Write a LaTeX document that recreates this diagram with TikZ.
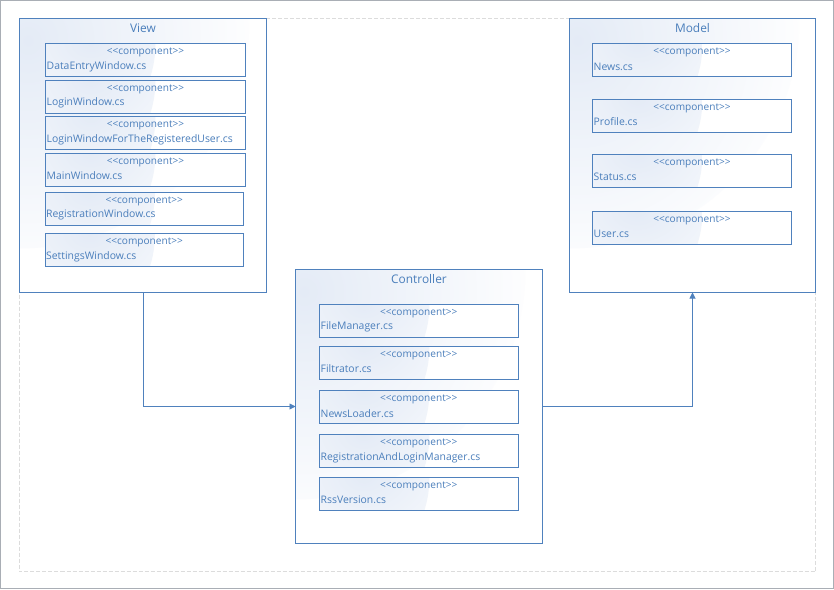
\documentclass[tikz,border=0pt]{standalone}
\usepackage{fontspec}
\setmainfont{Open Sans}
\usetikzlibrary{arrows.meta,calc}
\definecolor{lineblue}{HTML}{4F81BD}
\definecolor{txtblue}{HTML}{4A7EBB}
\definecolor{shadeblue}{HTML}{E4EBF6}
\definecolor{framegray}{HTML}{A9AEB5}
\definecolor{dashgray}{HTML}{DCDCDC}
\newcommand\mycomp[6]{%
  \node[compbox, minimum width=#4pt, minimum height=#5pt] (#1) at (#2,#3) {};
  \node[stereo] at ($(#1.north)+(0,9)$) {<\kern0pt<component>\kern0pt>};
  \node[cname] at ($(#1.north west)+(1,23)$) {#6};
}
\begin{document}
\begin{tikzpicture}[x=1pt,y=-1pt,
  container/.style={draw=lineblue, line width=0.9pt, fill=white, inner sep=0pt, anchor=north west, outer sep=0pt,
    path picture={\shade[inner color=shadeblue, outer color=white] (path picture bounding box.north west) circle[radius=230pt];}},
  compbox/.style={draw=lineblue, line width=0.9pt, fill=white, inner sep=0pt, anchor=north west, outer sep=0pt,
    path picture={\shade[inner color=shadeblue, outer color=white] (path picture bounding box.north west) circle[radius=110pt];}},
  stereo/.style={text=txtblue, font=\fontsize{10.1}{11}\selectfont, inner sep=0pt},
  cname/.style={text=txtblue, font=\fontsize{10.4}{12}\selectfont, inner sep=0pt, anchor=west},
  title/.style={text=txtblue, font=\fontsize{11.9}{13}\selectfont, inner sep=0pt},
  conn/.style={draw=lineblue, line width=0.9pt, -{Triangle[length=6pt,width=6pt]}}
]
\useasboundingbox (0,0) rectangle (834,589);
\fill[white] (0,0) rectangle (834,589);
\draw[framegray, line width=1pt] (0.5,0.5) rectangle (833.5,588.5);
\begin{scope}[shift={(0.5,0.5)}]
\draw[dashgray, line width=0.8pt, dash pattern=on 4pt off 2pt] (19,18) rectangle (815,571);

% containers
\node[container, minimum width=247pt, minimum height=274pt] (view) at (19,18) {};
\node[title] at ($(view.north)+(0,9.5)$) {View};
\node[container, minimum width=246pt, minimum height=274pt] (model) at (569,18) {};
\node[title] at ($(model.north)+(0,9.5)$) {Model};
\node[container, minimum width=247pt, minimum height=274pt] (ctrl) at (295,269) {};
\node[title] at ($(ctrl.north)+(0,9.5)$) {Controller};

% View components
\mycomp{dew}{45}{43}{200}{33}{DataEntryWindow.cs}
\mycomp{lw}{45}{79.5}{200}{33}{LoginWindow.cs}
\mycomp{lwr}{45}{116}{200}{32.5}{LoginWindowForTheRegisteredUser.cs}
\mycomp{mw}{45}{152.5}{200}{33}{MainWindow.cs}
\mycomp{rw}{44.5}{191.5}{198.5}{33}{RegistrationWindow.cs}
\mycomp{sw}{44.5}{233}{198.5}{33}{SettingsWindow.cs}

% Model components
\mycomp{news}{592}{43}{199}{33}{News.cs}
\mycomp{prof}{592}{98.5}{199}{33}{Profile.cs}
\mycomp{stat}{592}{153.5}{199}{33}{Status.cs}
\mycomp{user}{592}{210.5}{199}{33}{User.cs}

% Controller components
\mycomp{fm}{319}{303.5}{198.5}{33}{FileManager.cs}
\mycomp{filt}{319}{345.5}{198.5}{33}{Filtrator.cs}
\mycomp{nl}{319}{390}{198.5}{32.5}{NewsLoader.cs}
\mycomp{rlm}{319}{434}{198.5}{33}{RegistrationAndLoginManager.cs}
\mycomp{rss}{319}{476.5}{198.5}{33}{RssVersion.cs}

% connectors
\draw[conn] (view.south) |- (ctrl.west);
\draw[conn] (ctrl.east) -| (model.south);
\end{scope}
\end{tikzpicture}
\end{document}
